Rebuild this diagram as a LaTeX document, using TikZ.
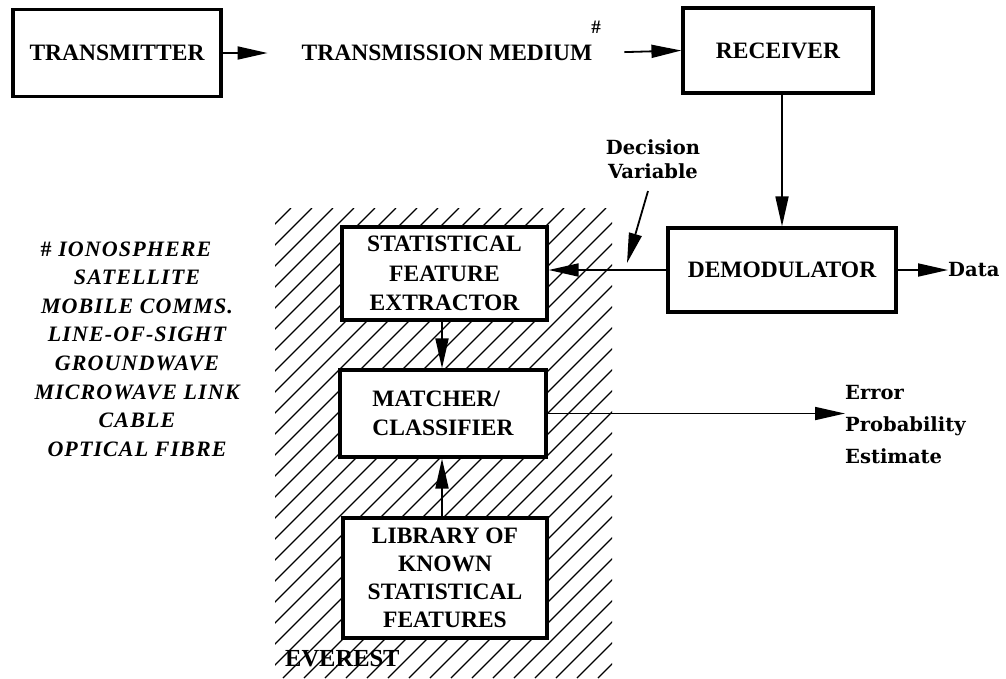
\documentclass[tikz,border=0pt]{standalone}
\usepackage{fontspec}
\setmainfont{Liberation Serif}
\newfontfamily\lblfont{DejaVu Serif}
\newfontfamily\listfont{Liberation Serif}[LetterSpace=5]
\usetikzlibrary{arrows.meta}
\newcommand\blkfont{\bfseries\fontsize{23.5}{29.5}\selectfont}
\begin{document}
\begin{tikzpicture}[x=1pt,y=-1pt,
  blockbox/.style={draw, line width=3.2pt, fill=white, inner sep=0pt,
                   font=\blkfont, align=center},
  conn/.style={line width=1.8pt},
  arr/.style={conn, -{Triangle[length=30pt,width=13pt]}},
  lbl/.style={font=\lblfont\bfseries\fontsize{19.5}{25}\selectfont, inner sep=0pt},
  hatch/.style={line width=1.2pt},
  plain/.style={inner sep=0pt, font=\blkfont}]
\useasboundingbox (0,0) rectangle (1006,678);

% hatched EVEREST area
\begin{scope}
  \clip (275,208) rectangle (612,678);
  \foreach \i in {0,...,40}
    \draw[hatch] (-200+\i*21,678) -- ++(470,-470);
\end{scope}
\node[plain, anchor=west, font=\bfseries\fontsize{24.5}{29}\selectfont] (everest) at (285,659) {EVEREST};

% top chain
\node[blockbox, minimum width=208pt, minimum height=87pt] (tx) at (117,53) {TRANSMITTER};
\node[plain] (medium) at (447,53) {TRANSMISSION MEDIUM};
\node[plain, font=\bfseries\fontsize{19}{19}\selectfont] (mark) at (596,27) {\#};
\node[blockbox, minimum width=190pt, minimum height=85pt] (rx) at (778,50.5) {RECEIVER};

% receiver side
\node[blockbox, minimum width=228pt, minimum height=84pt] (demod) at (782,270) {DEMODULATOR};
\node[lbl, anchor=west] (data) at (948,270) {Data};

% EVEREST blocks
\node[blockbox, minimum width=205pt, minimum height=93pt] (sfe) at (444.5,273.5)
  {STATISTICAL\\FEATURE\\EXTRACTOR};
\node[blockbox, minimum width=206pt, minimum height=87pt, align=left] (mc) at (443,413.5)
  {MATCHER/\\CLASSIFIER};
\node[blockbox, minimum width=204pt, minimum height=120pt, font=\bfseries\fontsize{23.5}{28}\selectfont] (lib) at (445,578)
  {LIBRARY OF\\KNOWN\\STATISTICAL\\FEATURES};

% labels
\node[lbl, align=center, font=\lblfont\bfseries\fontsize{19.5}{24}\selectfont] (dv) at (653,159) {Decision\\Variable};
\node[lbl, align=left, anchor=west, font=\lblfont\bfseries\fontsize{19.5}{32}\selectfont] (err) at (845,425)
  {Error\\Probability\\Estimate};

% list of media
\node[inner sep=0pt, align=center, font=\listfont\bfseries\itshape\fontsize{22}{28.6}\selectfont] (media) at (137,349)
  {{\upshape\#} IONOSPHERE\rule{22pt}{0pt}\\SATELLITE\\MOBILE COMMS.\\LINE-OF-SIGHT\\GROUNDWAVE\\MICROWAVE LINK\\CABLE\\OPTICAL FIBRE};

% connectors
\draw[arr, shorten >=34pt] (tx.east) -- (medium.west);
\draw[arr, shorten <=32pt] (medium.east) -- (rx.west);
\draw[arr] (demod.north |- rx.south) -- (demod.north);
\draw[arr] (demod.west) -- (demod.west -| sfe.east);
\draw[arr] (demod.east) -- (data.west);
\draw[arr] (sfe.south -| 442,0) -- (mc.north -| 442,0);
\draw[arr] (lib.north -| 442,0) -- (mc.south -| 442,0);
\draw[arr] (mc.east) -- (mc.east -| err.west);

\coordinate (dvtail) at (648,191);
\coordinate (dvtip) at (627,263);
\draw[arr] (dvtail) -- (dvtip);
\end{tikzpicture}
\end{document}
